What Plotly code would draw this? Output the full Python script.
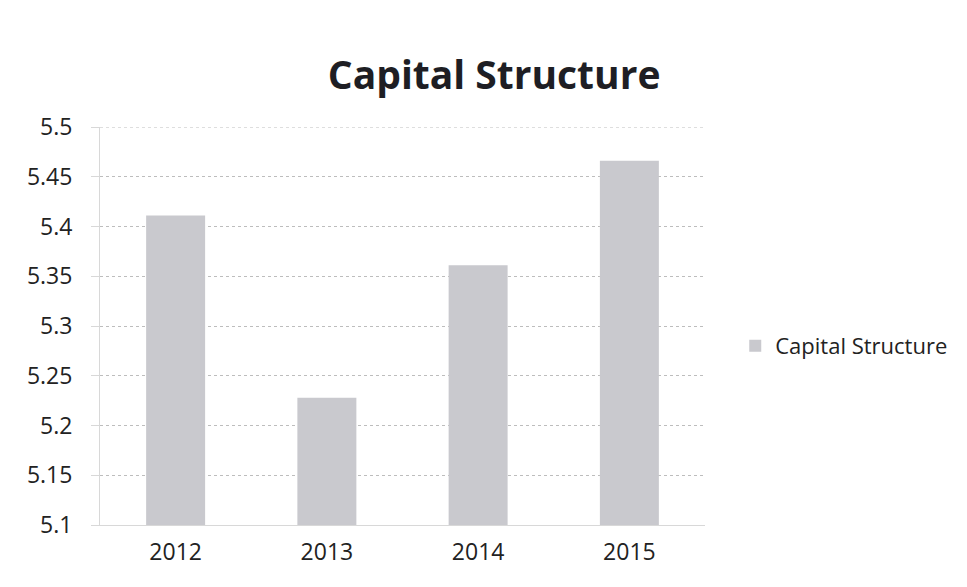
import plotly.graph_objects as go

years = ["2012", "2013", "2014", "2015"]
values = [5.411, 5.228, 5.361, 5.466]
series_name = "Capital Structure"
y_ticks = [5.1, 5.15, 5.2, 5.25, 5.3, 5.35, 5.4, 5.45, 5.5]
y_tick_text = ["5.1", "5.15", "5.2", "5.25", "5.3", "5.35", "5.4", "5.45", "5.5"]

fig = go.Figure()
fig.add_trace(go.Bar(
    x=years, y=values, name=series_name,
    marker=dict(color="#c9c9ce", line=dict(width=0)),
    width=0.39, showlegend=True,
))

fig.add_shape(type="line", xref="paper", yref="y", x0=0, x1=1,
              y0=y_ticks[-1], y1=y_ticks[-1],
              line=dict(color="#bdbdbd", width=1, dash="dot"), layer="below")

fig.update_layout(
    width=967, height=587,
    margin=dict(l=100, r=262, t=127, b=62),
    paper_bgcolor="white", plot_bgcolor="white",
    title=dict(text="<b>Capital Structure</b>", x=0.511, xanchor="center",
               y=1 - 75 / 587, yanchor="middle",
               font=dict(family="Open Sans", size=39, color="#1e1e24")),
    font=dict(family="Open Sans", color="#222"),
    legend=dict(x=1.05, y=0.45, xanchor="left", yanchor="middle",
                font=dict(size=22, color="#222"), itemwidth=30),
    bargap=0.61,
)
fig.update_yaxes(range=[5.1, 5.5], tickvals=y_ticks, ticktext=y_tick_text,
                 showgrid=True, gridcolor="#bdbdbd", griddash="dot", gridwidth=1,
                 showline=True, linecolor="#d8d8d8",
                 ticks="outside", ticklen=8, tickcolor="#d8d8d8",
                 ticklabelstandoff=14,
                 tickfont=dict(size=23, color="#222"), zeroline=False)
fig.update_xaxes(showline=True, linecolor="#d8d8d8", ticks="",
                 tickfont=dict(size=23, color="#222"), ticklabelstandoff=6)

fig.write_html("out.html")
